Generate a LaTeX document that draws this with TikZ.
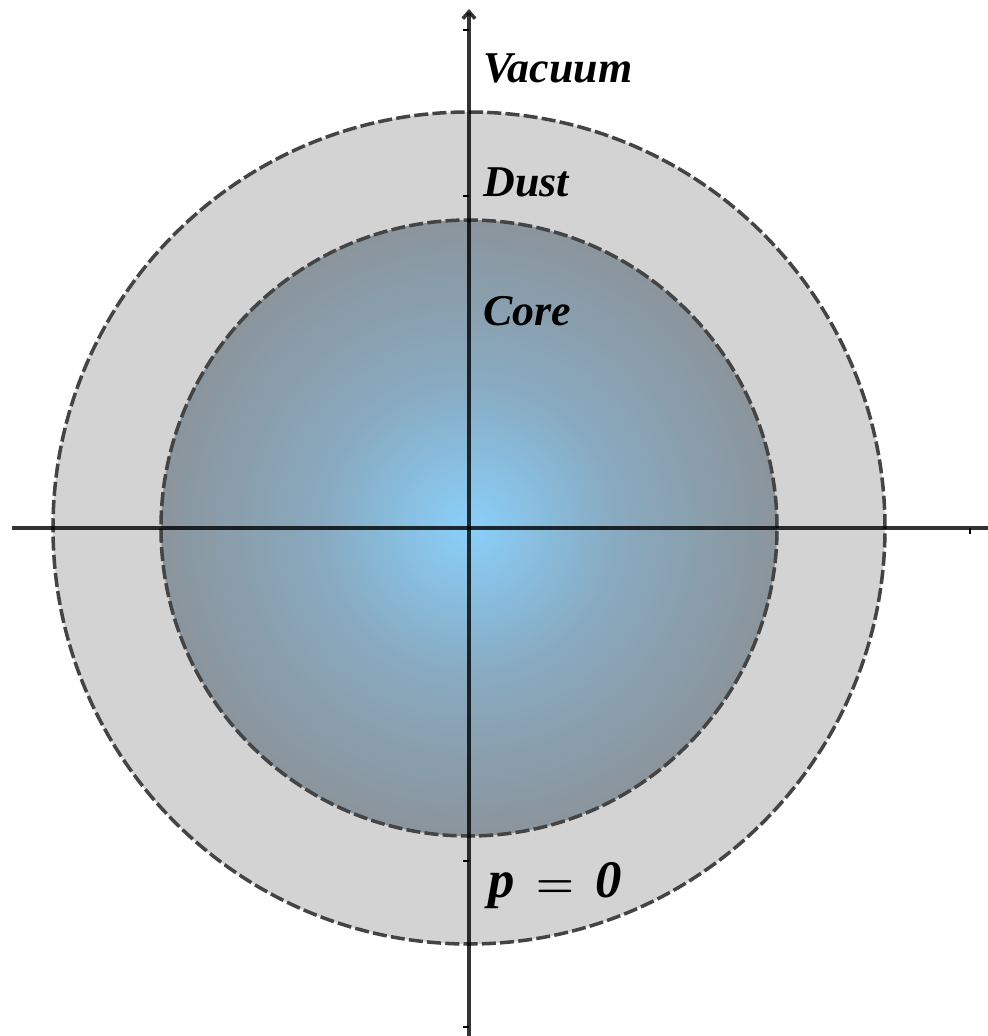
\documentclass[tikz,border=0pt]{standalone}
\usepackage{fontspec}
\setmainfont{Liberation Serif}
\usetikzlibrary{arrows.meta}

\definecolor{corecentre}{RGB}{137,207,250}
\definecolor{coremid}{RGB}{136,170,192}
\definecolor{coreedge}{RGB}{140,140,142}
\definecolor{dustgray}{RGB}{211,211,211}
\definecolor{rimgray}{RGB}{68,68,68}
\pgfdeclareradialshading{coreglow}{\pgfpointorigin}{color(0bp)=(corecentre); color(12bp)=(coremid); color(30bp)=(coreedge); color(50bp)=(coreedge)}

\begin{document}
\begin{tikzpicture}[
  x=0.02cm, y=0.02cm,
  rim/.style={draw=rimgray, line width=2pt, dash pattern=on 8pt off 2.4pt},
  axisline/.style={line width=2pt, draw=black, draw opacity=0.8},
  tickmark/.style={line width=1.2pt, draw=black},
  lbl/.style={font=\fontsize{25}{30}\selectfont\bfseries\itshape,
              anchor=base west, inner sep=0pt},
]
\useasboundingbox (-469,-508) rectangle (519,528);

% regions
\fill[dustgray] (0,0) circle (416);
\draw[rim] (0,0) circle (416);
\shade[shading=coreglow] (0,0) circle (308);
\draw[rim] (0,0) circle (308);

% axes
\coordinate (origin) at (0,0);
\coordinate (xlow) at (-457,0);
\coordinate (xhigh) at (519,0);
\coordinate (ylow) at (0,-508);
\coordinate (yhigh) at (0,519);
\draw[axisline] (xlow) -- (xhigh);
\draw[axisline, -{Straight Barb[length=4pt, width=7pt]}] (ylow) -- (yhigh);
\foreach \yy in {498,332,-333,-499}
  \draw[tickmark] (0,\yy) -- (-6,\yy);
\draw[tickmark] (501,0) -- (501,-6);

% labels
\node[lbl] (vacuum) at (14,446) {Vacuum};
\node[lbl] (dust) at (14,332) {Dust};
\node[lbl] (core) at (14,203) {Core};
\node[lbl, font=\fontsize{30}{34}\selectfont\bfseries\itshape] (pzero) at (19,-369)
  {p\hspace{0.4em}{\boldmath$=$}\hspace{0.4em}0};
\end{tikzpicture}
\end{document}
